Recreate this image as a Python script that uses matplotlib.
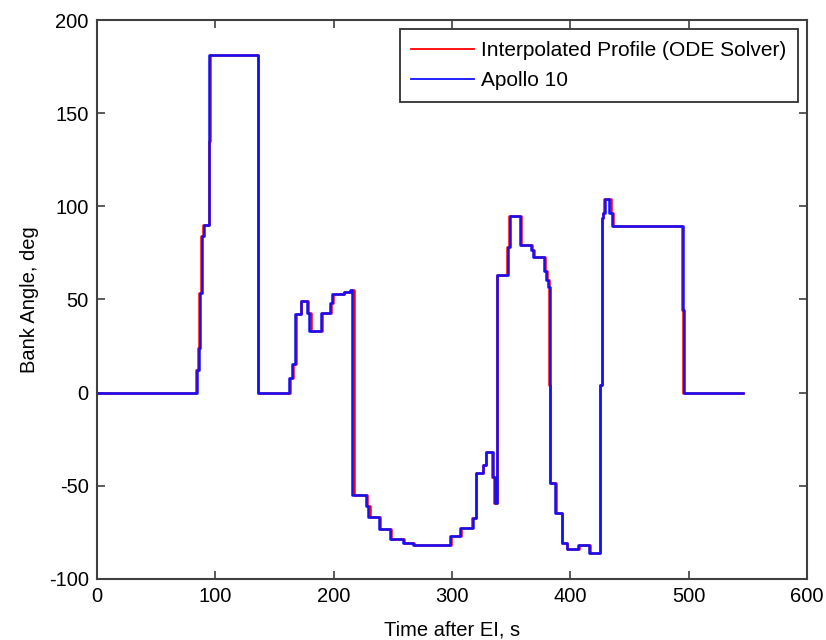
import matplotlib
matplotlib.use('Agg')
import matplotlib.pyplot as plt

plt.rcParams['font.family'] = ['Liberation Sans', 'DejaVu Sans']
plt.rcParams['axes.unicode_minus'] = False

# Apollo 10 bank angle profile (step values)
apollo_t = [0, 84.8, 86.2, 87, 88.5, 90, 95, 136.4, 162.5, 164.5, 167.4, 172.2,
            177.7, 179.5, 189, 197, 199, 208.8, 214, 215.5, 227, 229.3, 238.6,
            247.7, 258.3, 266.8, 298.4, 306.8, 318, 320, 326.6, 328.5, 334.5,
            336, 337.8, 347.7, 349, 357.6, 366.8, 368.7, 378, 379.5, 381.5,
            382.4, 387, 392.8, 397, 406.8, 416, 425, 426.5, 428, 429.4, 433,
            435, 495, 496, 546]
apollo_v = [0, 12, 24, 53.5, 84, 90, 181, 0, 8, 15.4, 42, 49.4,
            42.7, 33, 43, 48, 53, 54, 55, -55, -61, -66.7, -73,
            -78.5, -80.7, -81.7, -77, -72.6, -67, -43, -39, -31.7, -45,
            -59, 63, 78.4, 95, 79.3, 76.6, 73, 65.5, 60.5, 56.7,
            -48.3, -64.7, -80.8, -84, -82, -86, 4, 93.6, 96.4, 104, 96.4,
            89.5, 44.4, 0, 0]

# interpolated profile from the ODE solver
interp_t = [0, 84.0, 85.5, 86.5, 88, 89.5, 94.3, 95.3, 136.4, 163.3, 165.3,
            168.3, 172.8, 178.5, 180.5, 190, 197.5, 199.5, 209, 214.5, 217.3,
            228, 230.3, 239.5, 248.5, 259.5, 268, 299, 307.5, 316.5, 320,
            326.6, 328.5, 333.5, 335.2, 337.8, 346.5, 348.5, 358.5, 367.5,
            369.2, 378.5, 380, 382.0, 382.6, 388, 393.3, 397.5, 407.5, 416.5,
            425, 426.5, 427.3, 428.6, 434, 436, 494.3, 495.6, 546]
interp_v = [0, 12, 24, 53.5, 84, 90, 135, 181, 0, 8, 15.4,
            42, 49.4, 42.7, 33, 43, 48, 53, 54, 55, -55,
            -61, -66.7, -73, -78.5, -80.7, -81.7, -77, -72.6, -67, -43,
            -39, -31.7, -45, -59, 63, 78.4, 95, 79.3, 76.6,
            73, 65.5, 60.5, 4, -48.3, -64.7, -80.8, -84, -82, -86,
            4, 93.6, 96.4, 104, 96.4, 89.5, 44.4, 0, 0]

xticks = [0, 100, 200, 300, 400, 500, 600]
yticks = [-100, -50, 0, 50, 100, 150, 200]

fig = plt.figure(figsize=(8.26, 6.4), dpi=100)
ax = fig.add_axes([97 / 826, 1 - 579 / 640, 710 / 826, 559 / 640])

ax.plot(interp_t, interp_v, drawstyle='steps-post', color='#ff0000', lw=1.8,
        label='Interpolated Profile (ODE Solver)')
ax.plot(apollo_t, apollo_v, drawstyle='steps-post', color='#1010ff', lw=1.8,
        label='Apollo 10')

ax.set_xlim(0, 600)
ax.set_ylim(-100, 200)
ax.set_xticks(xticks)
ax.set_yticks(yticks)
ax.tick_params(direction='in', length=6, width=1.2, color='#404040',
               top=True, right=True, labelsize=14.5, pad=6)
for s in ax.spines.values():
    s.set_color('#404040')
    s.set_linewidth(1.5)

ax.set_xlabel('Time after EI, s', fontsize=14.5, labelpad=10)
ax.set_ylabel('Bank Angle, deg', fontsize=14.5, labelpad=7)

leg = ax.legend(loc='upper right', fontsize=15, fancybox=False,
                edgecolor='#303030', framealpha=1, handlelength=3.0,
                handletextpad=0.35, labelspacing=0.55, borderpad=0.55,
                borderaxespad=0.45)
leg.get_frame().set_linewidth(1.3)
for line in leg.get_lines():
    line.set_linewidth(1.3)

fig.savefig('out.png', dpi=100)
